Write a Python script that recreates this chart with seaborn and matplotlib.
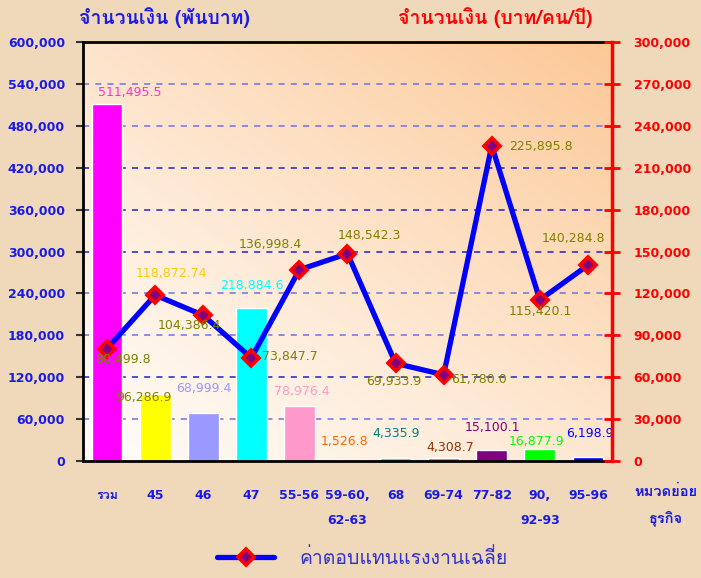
import numpy as np
import matplotlib
matplotlib.use('Agg')
import matplotlib.pyplot as plt
import seaborn as sns
from matplotlib import font_manager
from matplotlib.ft2font import FT2Font

# ข้อมูล
categories = ['รวม', '45', '46', '47', '55-56', '59-60,\n62-63', '68', '69-74', '77-82', '90,\n92-93', '95-96']
bar_values = [511495.5, 96286.9, 68999.4, 218884.6, 78976.4, 1526.8, 4335.9, 4308.7, 15100.1, 16877.9, 6198.9]
line_values = [80499.8, 118872.74, 104386.4, 73847.7, 136998.4, 148542.3, 69933.9, 61780.0, 225895.8, 115420.1, 140284.8]
bar_labels = ['511,495.5', '96,286.9', '68,999.4', '218,884.6', '78,976.4', '1,526.8', '4,335.9', '4,308.7', '15,100.1', '16,877.9', '6,198.9']
line_labels = ['80,499.8', '118,872.74', '104,386.4', '73,847.7', '136,998.4', '148,542.3', '69,933.9', '61,780.0', '225,895.8', '115,420.1', '140,284.8']
line_name = 'ค่าตอบแทนแรงงานเฉลี่ย'

bar_colors = ['#FF00FF', '#FFFF00', '#9999FF', '#00FFFF', '#FF99CC', '#800000', '#33CCCC', '#FF6600', '#800080', '#00FF00', '#0000FF']
bar_label_colors = ['#FF33CC', '#808000', '#9999FF', '#00FFFF', '#FF99CC', '#FF6600', '#008080', '#993300', '#800080', '#00FF00', '#0000FF']
line_label_colors = ['#808000', '#FFCC00'] + ['#808000'] * 9
# décalages des étiquettes (px) et alignement
bar_off = [(23, 11), (-11, -4), (1, 24), (1, 23), (2, 14), (-3, 18), (1, 24), (7, 11), (1, 23), (-3, 8), (2, 23)]
line_off = [(16, -11, 'center'), (16, 22, 'center'), (-14, -10, 'center'), (11, 1, 'left'),
            (-29, 25, 'center'), (22, 18, 'center'), (-2, -18, 'center'), (7, -5, 'left'),
            (17, -1, 'left'), (1, -12, 'center'), (-15, 27, 'center')]


def find_thai():
    for f in font_manager.fontManager.ttflist:
        try:
            if 0x0E08 in FT2Font(f.fname).get_charmap():
                return f.name
        except Exception:
            pass
    return 'DejaVu Sans'


thai = find_thai()
sns.set_style('white')
plt.rcParams['font.family'] = ['DejaVu Sans', thai]

bg = '#EFD9BA'
fig = plt.figure(figsize=(7.01, 5.78), dpi=100, facecolor=bg)
ax = fig.add_axes([0.1184, 0.2024, 0.7546, 0.7246])
ax2 = ax.twinx()

n = len(categories)
x = np.arange(n)

# fond dégradé
gx, gy = np.meshgrid(np.linspace(0, 1, 200), np.linspace(1, 0, 200))
t = np.clip((gx * 0.9 + gy * 1.0) / 1.9, 0, 1) ** 1.2
c0 = np.array([255, 252, 248]) / 255
c1 = np.array([252, 200, 150]) / 255
img = c0 + (c1 - c0) * t[..., None]
ax.imshow(img, extent=[-0.5, n - 0.5, 0, 600000], aspect='auto', zorder=0)

grid_cols = ['#6F6FE8', '#2020CC', '#6F6FE8', '#6F6FE8', '#2020CC', '#2020CC', '#2020CC', '#6F6FE8', '#6F6FE8']
for lv, gc in zip(range(60000, 600000, 60000), grid_cols):
    ax.axhline(lv, color=gc, lw=1.1, ls=(0, (4, 4)), zorder=1)

sns.barplot(x=x, y=bar_values, hue=x, palette=bar_colors, legend=False, ax=ax,
            width=0.64, saturation=1, native_scale=True, zorder=2)

for i in range(n):
    dx, dy = bar_off[i]
    ax.annotate(bar_labels[i], (x[i], bar_values[i]), xytext=(dx * 0.72, dy * 0.72),
                textcoords='offset points', ha='center', va='center',
                color=bar_label_colors[i], fontsize=9, zorder=5)

sns.lineplot(x=x, y=line_values, ax=ax2, color='#0000FF', lw=3.8, marker='D', markersize=8,
             markerfacecolor='#80007F', markeredgecolor='#FF0000', markeredgewidth=2.6,
             label=line_name, sort=False, zorder=4)

for i in range(n):
    dx, dy, ha = line_off[i]
    ax2.annotate(line_labels[i], (x[i], line_values[i]), xytext=(dx * 0.72, dy * 0.72),
                 textcoords='offset points', ha=ha, va='center',
                 color=line_label_colors[i], fontsize=9, zorder=6)

ax.set_xlim(-0.5, n - 0.5)
ax.set_ylim(0, 600000)
ax2.set_ylim(0, 300000)
ax.set_yticks(range(0, 600001, 60000))
ax2.set_yticks(range(0, 300001, 30000))
ax.set_yticklabels([f'{v:,}' for v in range(0, 600001, 60000)])
ax2.set_yticklabels([f'{v:,}' for v in range(0, 300001, 30000)])

ax.set_xticks(x)
ax.set_xticklabels(categories)
ax.set_xticks(np.arange(-0.5, n, 1), minor=True)
ax.tick_params(axis='x', which='major', length=0, pad=20, labelsize=9, labelcolor='#1A1AE6')
ax.tick_params(axis='x', which='minor', length=6, width=1.5, color='black', direction='out')
for lab in ax.get_xticklabels():
    lab.set_fontweight('bold')
    lab.set_linespacing(2.2)
    lab.set_verticalalignment('top')

ax.tick_params(axis='y', length=5, width=1.5, color='#333333', direction='out',
               labelsize=9, labelcolor='#1A1AE6', left=True, pad=8)
for lab in ax.get_yticklabels():
    lab.set_fontweight('bold')
ax2.tick_params(axis='y', length=11, width=2, color='#FF0000', direction='inout',
                labelsize=9, labelcolor='#FF0000', right=True, pad=10)
for lab in ax2.get_yticklabels():
    lab.set_fontweight('bold')

ax.set_xlabel('')
ax.set_ylabel('')
ax2.set_ylabel('')
for s in ['left', 'bottom', 'top']:
    ax.spines[s].set_color('black')
    ax.spines[s].set_linewidth(2)
    ax2.spines[s].set_visible(False)
ax.spines['right'].set_visible(False)
ax2.spines['right'].set_color('#FF0000')
ax2.spines['right'].set_linewidth(2.5)

fig.text(0.235, 0.969, 'จำนวนเงิน (พันบาท)', color='#1A1AE6', fontsize=14,
         fontweight='bold', ha='center', va='center', family=[thai, 'DejaVu Sans'])
fig.text(0.706, 0.969, 'จำนวนเงิน (บาท/คน/ปี)', color='#FF0000', fontsize=14,
         fontweight='bold', ha='center', va='center', family=[thai, 'DejaVu Sans'])
fig.text(0.950, 0.149, 'หมวดย่อย', color='#1A1AE6', fontsize=10.5, fontweight='bold',
         ha='center', va='center', family=[thai, 'DejaVu Sans'])
fig.text(0.950, 0.104, 'ธุรกิจ', color='#1A1AE6', fontsize=10.5, fontweight='bold',
         ha='center', va='center', family=[thai, 'DejaVu Sans'])

leg = ax2.legend(loc='center', bbox_to_anchor=(0.517, 0.035), bbox_transform=fig.transFigure,
                 frameon=False, handlelength=2.9, handletextpad=1.3,
                 prop={'family': [thai, 'DejaVu Sans'], 'size': 14})
for txt in leg.get_texts():
    txt.set_color('#3333CC')

fig.savefig('out.png', dpi=100, facecolor=bg)
